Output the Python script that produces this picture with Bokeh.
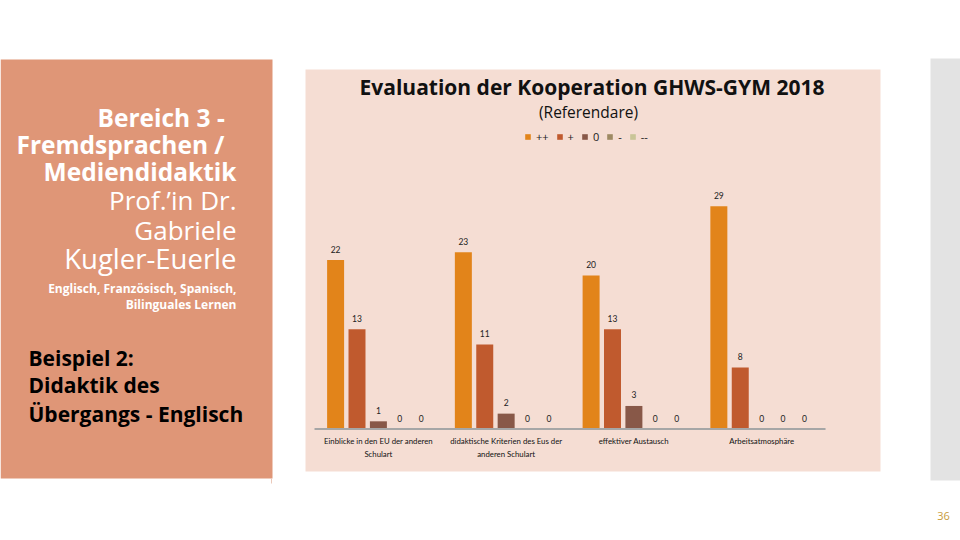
from bokeh.plotting import figure
from bokeh.models import (ColumnDataSource, Range1d, Legend, LegendItem, Label)
from bokeh.transform import dodge
from bokeh.core.properties import value
from bokeh.embed import file_html
from bokeh.resources import INLINE

# ---------------- data ----------------
categories = ["Einblicke in den EU der anderen Schulart",
              "didaktische Kriterien des Eus der anderen Schulart",
              "effektiver Austausch",
              "Arbeitsatmosphäre"]
tick_labels = ["Einblicke in den EU der anderen\nSchulart",
               "didaktische Kriterien des Eus der\nanderen Schulart",
               "effektiver Austausch",
               "Arbeitsatmosphäre"]
series = ["++", "+", "0", "-", "--"]
vals_pp = [22, 23, 20, 29]
vals_p = [13, 11, 13, 8]
vals_0 = [1, 2, 3, 0]
vals_m = [0, 0, 0, 0]
vals_mm = [0, 0, 0, 0]

title_text = "Evaluation der Kooperation GHWS-GYM 2018"
subtitle_text = "(Referendare)"
page_number = "36"

# ---------------- styles ----------------
FONT = "Open Sans"
SMALL_FONT = "Lato"
PINK = "#F5DDD3"
PANEL = "#DF9677"
GREY = "#E3E3E3"
colors = ["#E2841A", "#C05A2E", "#885848", "#9E8A63", "#C9C597"]

values = [vals_pp, vals_p, vals_0, vals_m, vals_mm]
cat_idx = list(range(len(categories)))
src = ColumnDataSource(dict(idx=cat_idx, cat=categories, lab=tick_labels,
                            **{f"s{j}": v for j, v in enumerate(values)},
                            **{f"t{j}": [str(x) for x in v] for j, v in enumerate(values)}))

# one slide-sized canvas; slide decoration uses pixel-like default ranges,
# the bar chart uses its own value/category scales (extra ranges)
p = figure(width=960, height=540, title=None,
           x_range=Range1d(0, 960), y_range=Range1d(540, 0),
           output_backend="svg", toolbar_location=None,
           x_axis_location=None, y_axis_location=None,
           min_border=0, min_border_left=0, min_border_right=0,
           min_border_top=0, min_border_bottom=0,
           background_fill_color="white", border_fill_color="white",
           outline_line_color=None)
p.grid.grid_line_color = None

# chart scales: category pitch 127.75 px starting at x=377.9; 7.68 px per unit, baseline y=428.5
p.extra_x_ranges = {"cx": Range1d(-377.9 / 127.75, (960 - 377.9) / 127.75)}
p.extra_y_ranges = {"cy": Range1d(-(540 - 428.5) / 7.68, 428.5 / 7.68)}

# ---------------- slide decoration ----------------
p.quad(left=[0], right=[272], top=[59], bottom=[478], fill_color=PANEL, line_color=None)
p.quad(left=[305], right=[880], top=[69], bottom=[471], fill_color=PINK, line_color=None)
p.quad(left=[930], right=[960], top=[58], bottom=[480], fill_color=GREY, line_color=None)
p.segment(x0=[271], x1=[271], y0=[478], y1=[483], line_color="#EBC9BA", line_width=1)

black_lines = [("Beispiel 2:", 357), ("Didaktik des", 384), ("Übergangs - Englisch", 413)]
for txt, yy in black_lines:
    p.add_layout(Label(x=28, y=yy, text=txt, text_align="left", text_baseline="middle",
                       text_font=FONT, text_font_style="bold", text_font_size="21px",
                       text_color="black"))

# white heading lines (right edge at x=236)
white_lines = [("Bereich 3 -", 117, "bold", "24.5px", 97, "left"),
               ("Fremdsprachen /", 144, "bold", "24.5px", 16, "left"),
               ("Mediendidaktik", 171, "bold", "24.5px", 236, "right"),
               ("Prof.’in Dr.", 199, "normal", "26px", 236, "right"),
               ("Gabriele", 229, "normal", "26px", 236, "right"),
               ("Kugler-Euerle", 258, "normal", "27.5px", 236, "right"),
               ("Englisch, Französisch, Spanisch,", 288, "bold", "12px", 236, "right"),
               ("Bilinguales Lernen", 304, "bold", "12px", 236, "right")]
wsrc = ColumnDataSource(dict(x=[w[4] for w in white_lines],
                             y=[w[1] for w in white_lines],
                             text=[w[0] for w in white_lines],
                             style=[w[2] for w in white_lines],
                             size=[w[3] for w in white_lines],
                             align=[w[5] for w in white_lines]))
p.text(x="x", y="y", text="text", source=wsrc, text_align="align", text_baseline="middle",
       text_font=value(FONT), text_font_style="style", text_font_size="size",
       text_color="white")

p.add_layout(Label(x=943, y=515, text=page_number, text_align="center", text_baseline="middle",
                   text_font=FONT, text_font_size="11px", text_color="#C99B3B"))

# ---------------- chart ----------------
p.add_layout(Label(x=591.5, y=86, text=title_text, text_align="center", text_baseline="middle",
                   text_font=FONT, text_font_style="bold", text_font_size="21px",
                   text_color="#111111"))
p.add_layout(Label(x=588, y=111, text=subtitle_text, text_align="center", text_baseline="middle",
                   text_font=FONT, text_font_size="15.5px", text_color="#111111"))

pitch = 0.1675
bw = 0.133
items = []
for j, s in enumerate(series):
    xd = dodge("idx", (j - 2) * pitch)
    r = p.vbar(x=xd, top=f"s{j}", width=bw, bottom=0, source=src,
               fill_color=colors[j], line_color=None,
               x_range_name="cx", y_range_name="cy")
    p.text(x=xd, y=f"s{j}", text=f"t{j}", source=src,
           x_range_name="cx", y_range_name="cy",
           text_align="center", text_baseline="middle", y_offset=-11,
           text_font=value(SMALL_FONT), text_font_size="8.5px", text_color="#222222")
    items.append(LegendItem(label=s, renderers=[r]))

# category axis line and labels
p.segment(x0=[cat_idx[0] - 0.5], x1=[cat_idx[-1] + 0.5], y0=[0], y1=[0],
          x_range_name="cx", y_range_name="cy", line_color="#A6A6A6", line_width=2)
p.text(x="idx", y=0, text="lab", source=src, x_range_name="cx", y_range_name="cy",
       text_align="center", text_baseline="top", y_offset=7, text_line_height=1.3,
       text_font=value(SMALL_FONT), text_font_size="7.8px", text_color="#111111")

legend = Legend(items=items, orientation="horizontal", location=(524, 540 - 144),
                glyph_width=7, glyph_height=7, label_width=0, label_height=10,
                label_standoff=5, spacing=7, padding=0, margin=0,
                label_text_font=FONT, label_text_font_size="11px", label_text_color="#222222",
                background_fill_alpha=0, border_line_color=None)
p.add_layout(legend)

open("out.html", "w").write(file_html(p, INLINE))
